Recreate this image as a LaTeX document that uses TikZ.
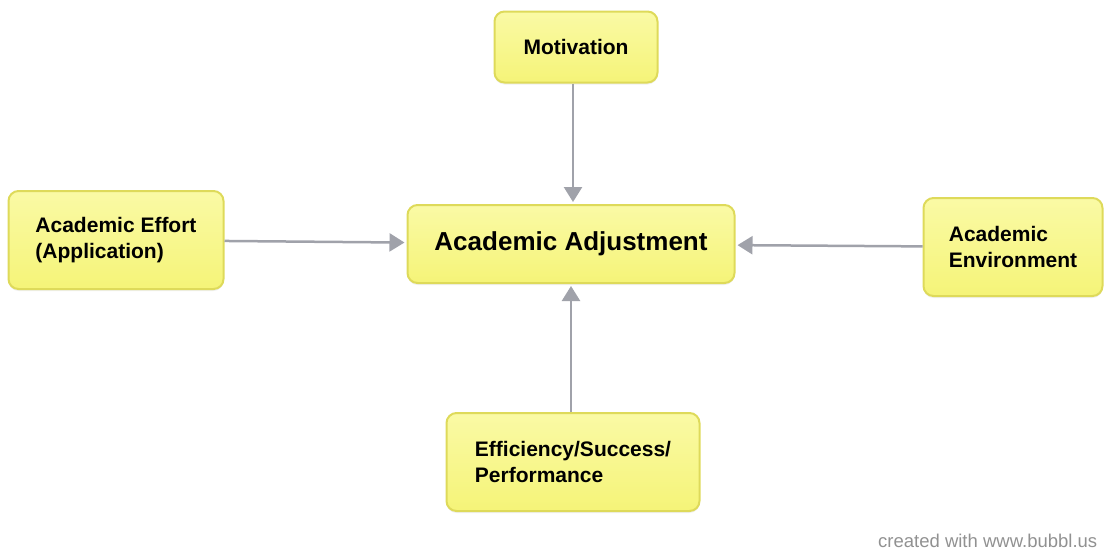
\documentclass[tikz,border=0pt]{standalone}
\usepackage{fontspec}
\setmainfont{Liberation Sans}
\usepackage{tikz}
\usetikzlibrary{arrows.meta, shadows}

\definecolor{boxfill}{RGB}{245,244,120}
\definecolor{boxtop}{RGB}{250,250,165}
\definecolor{boxline}{RGB}{222,218,90}
\definecolor{arrowgray}{RGB}{160,162,170}
\definecolor{markgray}{RGB}{145,145,145}

\tikzset{
	bubble/.style = {draw = boxline, line width = 2pt, rounded corners = 10pt,
		top color = boxtop, bottom color = boxfill, align = left,
		font = \bfseries\fontsize{21}{26}\selectfont, inner sep = 0pt,
		drop shadow = {opacity = 0.12, shadow xshift = 0pt, shadow yshift = -2pt}},
	link/.style = {draw = arrowgray, line width = 2.5pt,
		-{Triangle[length = 15pt, width = 18pt]}}
}

\begin{document}
\begin{tikzpicture}[x = 1pt, y = -1pt]
							\clip (0,0) rectangle (1105,550);
				
							\node [bubble, minimum width = 163pt, minimum height = 71pt] (motiv) at (576,47) {Motivation};
							\node [bubble, minimum width = 327pt, minimum height = 78pt, font = \bfseries\fontsize{26}{30}\selectfont] (adjust) at (571,244) {Academic Adjustment};
							\node [bubble, minimum width = 215pt, minimum height = 98pt] (effort) at (116,240) {Academic Effort\\(Application)};
							\node [bubble, minimum width = 179pt, minimum height = 98pt] (environ) at (1013,247) {Academic\\Environment};
							\node [bubble, minimum width = 253pt, minimum height = 98pt] (effic) at (573,462) {Efficiency/Success/\\Performance};
				
							\begin{scope}[link, shorten > = 2pt]
								\draw ([xshift = -3pt]motiv.south) -- ([xshift = -3pt]motiv.south |- adjust.north);
								\draw (effort) -- (adjust);
								\draw (environ) -- (adjust);
								\draw ([xshift = -2pt]effic.north) -- ([xshift = -2pt]effic.north |- adjust.south);
							\end{scope}
				
							\node [anchor = base west, text = markgray, font = \fontsize{18.5}{22}\selectfont, inner sep = 0pt] (mark) at (878,547) {created with www.bubbl.us};
						\end{tikzpicture}
\end{document}
